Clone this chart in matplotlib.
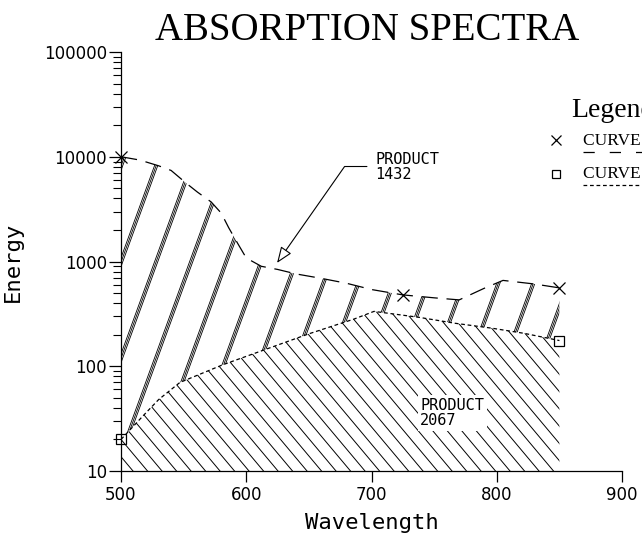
import numpy as np
import matplotlib
matplotlib.use('Agg')
import matplotlib.pyplot as plt
from matplotlib.lines import Line2D
from matplotlib.patches import Polygon
from matplotlib.ticker import LogLocator, NullFormatter

# curve 1 (upper, long dashes, x markers)
wl_upper = [500, 515, 530, 540, 552, 561, 572, 580, 586, 593, 600, 612, 625, 640,
            660, 680, 700, 725, 750, 770, 790, 805, 830, 850]
en_upper = [10000, 9300, 8200, 7400, 5600, 4600, 3700, 2900, 2100, 1500, 1080, 900,
            840, 760, 690, 620, 540, 480, 450, 430, 555, 660, 610, 560]
upper_marks = [0, 17, 23]

# curve 2 (lower, short dashes, square markers)
wl_lower = [500, 518, 530, 547, 581, 650, 686, 702, 738, 767, 796, 822, 850]
en_lower = [20, 34, 48, 70, 103, 204, 282, 334, 293, 257, 231, 206, 176]
lower_marks = [0, 12]

x_ticks = [500, 600, 700, 800, 900]
y_ticks = [10, 100, 1000, 10000, 100000]

W_FIG, H_FIG = 642, 535
fx = lambda px: px / W_FIG
fy = lambda py: 1 - py / H_FIG
SERIF = ['Liberation Serif', 'DejaVu Serif']

fig = plt.figure(figsize=(6.42, 5.35), dpi=100)
ax_l, ax_r, ax_t, ax_b = 121, 622, 52, 471
ax = fig.add_axes([fx(ax_l), fy(ax_b), (ax_r - ax_l) / W_FIG, (ax_b - ax_t) / H_FIG])
AX_W, AX_H = ax_r - ax_l, ax_b - ax_t

ax.set_yscale('log')
ax.set_xlim(500, 900)
ax.set_ylim(10, 100000)


def hatch(poly, angle, step, start, offsets, lw):
    # parallel lines at a screen angle, clipped to the polygon
    cot = 1 / np.tan(np.radians(angle))
    for k in range(-90, 90):
        c = start + k * step
        for o in offsets:
            x0 = c + o
            x1 = x0 + AX_H * cot
            if max(x0, x1) < 0 or min(x0, x1) > AX_W:
                continue
            ln = Line2D([x0 / AX_W, x1 / AX_W], [0, 1], transform=ax.transAxes,
                        color='black', lw=lw, zorder=1.5)
            ax.add_line(ln)
            ln.set_clip_path(poly)


# region between the curves
upper_poly = Polygon(list(zip(wl_upper, en_upper)) + list(zip(wl_lower, en_lower))[::-1],
                     closed=True, fill=False, edgecolor='none')
ax.add_patch(upper_poly)
hatch(upper_poly, 70, 35, -76, [-1.6, 0, 1.6], 0.6)

# region under the lower curve
lower_poly = Polygon([(wl_lower[0], 10)] + list(zip(wl_lower, en_lower)) + [(wl_lower[-1], 10)],
                     closed=True, fill=False, edgecolor='none')
ax.add_patch(lower_poly)
hatch(lower_poly, 130, 14.5, 12, [0], 0.7)

ax.plot(wl_upper, en_upper, color='black', lw=0.9, dashes=(13, 7),
        marker='x', markevery=upper_marks, ms=8, mew=0.9, zorder=3, clip_on=False)
ax.plot(wl_lower, en_lower, color='black', lw=0.9, dashes=(3, 2.2),
        marker='s', markevery=lower_marks, ms=7, mfc='none', mew=0.9, zorder=3, clip_on=False)

ax.annotate('PRODUCT\n1432', xy=(624.6, 969), xytext=(703, 8070),
            ha='left', va='center', fontfamily='DejaVu Sans Mono', fontsize=11,
            linespacing=1.0,
            arrowprops=dict(arrowstyle='-|>,head_length=0.9,head_width=0.35',
                            fc='white', ec='black', lw=0.8,
                            connectionstyle='angle,angleA=0,angleB=55,rad=0',
                            relpos=(0, 0.5), shrinkA=4, shrinkB=0))
ax.text(739, 35.8, 'PRODUCT\n2067', ha='left', va='center',
        fontfamily='DejaVu Sans Mono', fontsize=11, linespacing=1.0, zorder=4,
        bbox=dict(fc='white', ec='none', pad=2))

for s in ['top', 'right']:
    ax.spines[s].set_visible(False)
for s in ['left', 'bottom']:
    ax.spines[s].set_linewidth(0.9)

ax.set_xticks(x_ticks)
ax.set_xticklabels([str(v) for v in x_ticks])
ax.set_yticks(y_ticks)
ax.set_yticklabels([str(v) for v in y_ticks])
ax.yaxis.set_minor_locator(LogLocator(base=10, subs=range(2, 10)))
ax.yaxis.set_minor_formatter(NullFormatter())
ax.tick_params(axis='y', which='major', direction='out', length=9, width=0.9,
               labelsize=12, pad=1)
ax.tick_params(axis='y', which='minor', direction='out', length=6, width=0.8)
ax.tick_params(axis='x', which='major', direction='out', length=8, width=0.9,
               labelsize=12, pad=3)
ax.tick_params(axis='x', which='minor', bottom=False)

ax.set_xlabel('Wavelength', fontfamily='DejaVu Sans Mono', fontsize=16, labelpad=6)
fig.text(fx(13), fy(262), 'Energy', rotation=90, ha='center', va='center',
         fontfamily='DejaVu Sans Mono', fontsize=16)

fig.text(fx(367), fy(31), 'ABSORPTION SPECTRA', ha='center', va='center',
         fontfamily=SERIF, fontsize=28)

# legend at the right edge (runs off the page like the original)
fig.text(fx(571), fy(117), 'Legend', fontfamily=SERIF, fontsize=20, va='baseline')
fig.add_artist(Line2D([fx(556)], [fy(140)], marker='x', ms=7, mew=0.9, color='black',
                      transform=fig.transFigure))
fig.text(fx(583), fy(145), 'CURVE 1', fontfamily=SERIF, fontsize=12.5, va='baseline')
fig.add_artist(Line2D([fx(583), fx(700)], [fy(152), fy(152)], lw=0.9, dashes=(9, 12),
                      color='black', transform=fig.transFigure))
fig.add_artist(Line2D([fx(556)], [fy(174)], marker='s', ms=6, mew=0.9, mfc='none',
                      color='black', transform=fig.transFigure))
fig.text(fx(583), fy(178), 'CURVE 2', fontfamily=SERIF, fontsize=12.5, va='baseline')
fig.add_artist(Line2D([fx(583), fx(700)], [fy(185), fy(185)], lw=0.9, dashes=(3, 2.2),
                      color='black', transform=fig.transFigure))

fig.savefig('out.png', dpi=100)
